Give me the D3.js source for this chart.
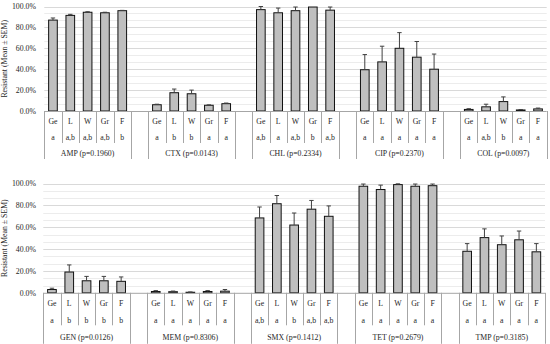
<!DOCTYPE html>
<html>
<head>
<meta charset="utf-8">
<script src="https://cdn.jsdelivr.net/npm/d3@7"></script>
<style>
  body { margin: 0; background: #fff; }
  svg { display: block; font-family: "Liberation Serif", "Times New Roman", serif; }
</style>
</head>
<body>
<svg id="chart" width="550" height="344"></svg>
<script>
// sample types, same for every drug
var sources = ['Ge', 'L', 'W', 'Gr', 'F'];

// top row of drugs
var topDrugs = ['AMP (p=0.1960)', 'CTX (p=0.0143)', 'CHL (p=0.2334)', 'CIP (p=0.2370)', 'COL (p=0.0097)'];
var topMeans = [
  [87, 91.5, 94.5, 94, 96],
  [6, 17.5, 16.5, 5.5, 7],
  [97, 94, 96, 99.5, 96.5],
  [39.5, 47, 60, 51.5, 40],
  [1.5, 4, 9, 1, 2]
];
var topSem = [
  [2, 1, 0.5, 0.5, 0.3],
  [0.5, 3.5, 3.5, 0.4, 0.6],
  [3, 4.5, 3.5, 0, 3],
  [14.5, 15, 15, 15, 14.5],
  [0.7, 2.5, 4.5, 0.4, 0.8]
];
var topLetters = [
  ['a', 'a,b', 'a,b', 'a,b', 'b'],
  ['a', 'b', 'b', 'a', 'a'],
  ['a,b', 'a', 'a,b', 'b', 'a,b'],
  ['a', 'a', 'a', 'a', 'a'],
  ['a', 'a,b', 'b', 'a', 'a']
];

// bottom row of drugs
var botDrugs = ['GEN (p=0.0126)', 'MEM (p=0.8306)', 'SMX (p=0.1412)', 'TET (p=0.2679)', 'TMP (p=0.3185)'];
var botMeans = [
  [3, 19, 11, 11, 10.5],
  [1.2, 1, 0.5, 1.2, 1.5],
  [68.5, 81.5, 62, 76.5, 70],
  [97.5, 94.5, 99, 97.5, 98],
  [38, 50.5, 44, 48.5, 37.5]
];
var botSem = [
  [1.2, 6.5, 4, 4, 4],
  [0.8, 0.6, 0.3, 0.8, 1.5],
  [10, 7.5, 11, 8, 9.5],
  [2, 4, 0.7, 2, 1.5],
  [7, 8, 8, 8, 7.5]
];
var botLetters = [
  ['a', 'b', 'b', 'b', 'b'],
  ['a', 'a', 'a', 'a', 'a'],
  ['a,b', 'a', 'b', 'a,b', 'a,b'],
  ['a', 'a', 'a', 'a', 'a'],
  ['a', 'a', 'a', 'a', 'a']
];

var yTicks = [0, 20, 40, 60, 80, 100];

var svg = d3.select('#chart');
var FS = 7.8, TXT = '#262626';

function drawPanel(p, drugs, means, sem, letters) {
  var g = svg.append('g');

  // slots: 5 bars per drug, one empty slot between drugs
  var keys = [];
  drugs.forEach(function(d, i) {
    if (i > 0) keys.push('gap' + i);
    sources.forEach(function(s) { keys.push(i + '|' + s); });
  });
  var x = d3.scaleBand().domain(keys).range([p.left, p.right]);
  var bw = x.bandwidth();
  var y = d3.scaleLinear().domain([0, 100]).range([p.base, p.top]);

  // minor gridlines (3 per major step)
  var minor = d3.range(0, 100.01, 20 / 3).filter(function(v) { return Math.round(v) % 20 !== 0; });
  g.selectAll('.minor').data(minor).enter().append('line')
    .attr('x1', p.left).attr('x2', p.right)
    .attr('y1', function(d) { return Math.round(y(d)) + 0.5; })
    .attr('y2', function(d) { return Math.round(y(d)) + 0.5; })
    .attr('stroke', '#ececec').attr('stroke-width', 1);

  g.selectAll('.major').data(yTicks.slice(1)).enter().append('line')
    .attr('x1', p.left).attr('x2', p.right)
    .attr('y1', function(d) { return Math.round(y(d)) + 0.5; })
    .attr('y2', function(d) { return Math.round(y(d)) + 0.5; })
    .attr('stroke', '#d9d9d9').attr('stroke-width', 1);

  // y tick labels
  g.selectAll('.ytick').data(yTicks).enter().append('text')
    .attr('x', 36).attr('y', function(d) { return y(d); })
    .attr('dy', '0.35em').attr('text-anchor', 'end')
    .attr('font-size', FS).attr('fill', TXT)
    .text(function(d) { return d3.format('.1f')(d) + '%'; });

  // y axis title
  g.append('text')
    .attr('transform', 'translate(7,' + ((p.top + p.base) / 2) + ') rotate(-90)')
    .attr('text-anchor', 'middle').attr('font-size', FS).attr('fill', TXT)
    .text('Resistant (Mean ± SEM)');

  var rows = [];
  drugs.forEach(function(d, i) {
    sources.forEach(function(s, j) {
      rows.push({ key: i + '|' + s, src: s, v: means[i][j], e: sem[i][j], lt: letters[i][j], first: j === 0 });
    });
  });

  // bars
  g.selectAll('.bar').data(rows).enter().append('rect')
    .attr('x', function(d) { return x(d.key) + bw * 0.25; })
    .attr('width', bw * 0.5)
    .attr('y', function(d) { return y(d.v); })
    .attr('height', function(d) { return y(0) - y(d.v); })
    .attr('fill', '#bfbfbf').attr('stroke', '#111').attr('stroke-width', 1);

  // error bars (upper only)
  var eb = g.selectAll('.err').data(rows.filter(function(d) { return d.e > 0; })).enter().append('g')
    .attr('stroke', '#404040').attr('stroke-width', 1);
  eb.append('line')
    .attr('x1', function(d) { return x(d.key) + bw / 2; })
    .attr('x2', function(d) { return x(d.key) + bw / 2; })
    .attr('y1', function(d) { return y(d.v); })
    .attr('y2', function(d) { return y(Math.min(d.v + d.e, 100.5)); });
  eb.append('line')
    .attr('x1', function(d) { return x(d.key) + bw / 2 - 2.2; })
    .attr('x2', function(d) { return x(d.key) + bw / 2 + 2.2; })
    .attr('y1', function(d) { return y(Math.min(d.v + d.e, 100.5)); })
    .attr('y2', function(d) { return y(Math.min(d.v + d.e, 100.5)); });

  // axis line
  g.append('line')
    .attr('x1', p.left).attr('x2', p.right)
    .attr('y1', y(0) + 0.5).attr('y2', y(0) + 0.5)
    .attr('stroke', '#a6a6a6');

  // category table: vertical separators
  var sep = [];
  rows.forEach(function(d) {
    sep.push({ x: x(d.key), long: d.first });
    if (d.src === 'F') sep.push({ x: x(d.key) + bw, long: true });
  });
  g.selectAll('.sep').data(sep).enter().append('line')
    .attr('x1', function(d) { return Math.round(d.x) + 0.5; })
    .attr('x2', function(d) { return Math.round(d.x) + 0.5; })
    .attr('y1', y(0))
    .attr('y2', function(d) { return d.long ? p.base + p.longEnd : p.base + p.shortEnd; })
    .attr('stroke', '#a6a6a6').attr('stroke-width', 1);

  g.selectAll('.src').data(rows).enter().append('text')
    .attr('x', function(d) { return x(d.key) + bw / 2; })
    .attr('y', p.base + p.r1).attr('dy', '0.35em')
    .attr('text-anchor', 'middle').attr('font-size', FS).attr('fill', TXT)
    .text(function(d) { return d.src; });

  g.selectAll('.lt').data(rows).enter().append('text')
    .attr('x', function(d) { return x(d.key) + bw / 2; })
    .attr('y', p.base + p.r2).attr('dy', '0.35em')
    .attr('text-anchor', 'middle').attr('font-size', FS).attr('fill', TXT)
    .text(function(d) { return d.lt; });

  g.selectAll('.drug').data(drugs).enter().append('text')
    .attr('x', function(d, i) { return (x(i + '|Ge') + x(i + '|F') + bw) / 2; })
    .attr('y', p.base + p.r3).attr('dy', '0.35em')
    .attr('text-anchor', 'middle').attr('font-size', FS).attr('fill', TXT)
    .text(function(d) { return d; });
}

drawPanel({ left: 44.3, right: 546.7, top: 6.5, base: 111, r1: 10.5, r2: 26.5, r3: 42.5, shortEnd: 32, longEnd: 48 },
  topDrugs, topMeans, topSem, topLetters);
drawPanel({ left: 43.3, right: 545, top: 183.5, base: 292.8, r1: 10.8, r2: 27.7, r3: 44, shortEnd: 32.5, longEnd: 51 },
  botDrugs, botMeans, botSem, botLetters);
</script>
</body>
</html>
